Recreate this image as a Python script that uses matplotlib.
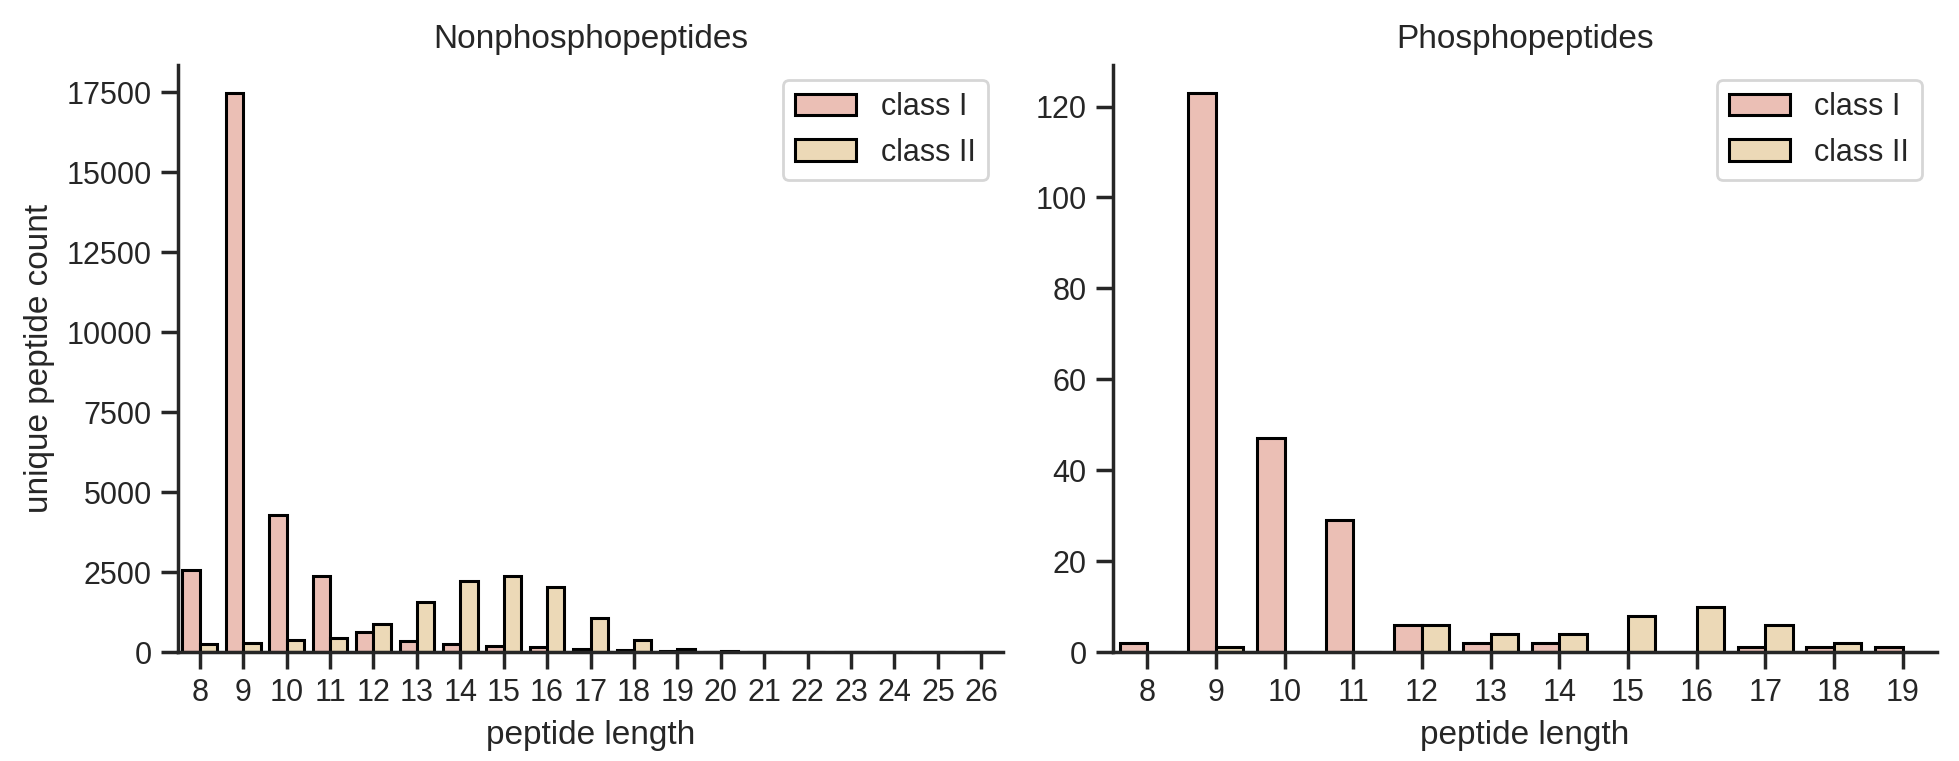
import numpy as np
import matplotlib
matplotlib.use("Agg")
import matplotlib.pyplot as plt

# peptide length counts
lengths_nonphospho = [8, 9, 10, 11, 12, 13, 14, 15, 16, 17, 18, 19, 20, 21, 22, 23, 24, 25, 26]
nonphospho_class1 = [2550, 17480, 4290, 2390, 640, 350, 250, 190, 150, 110, 55, 30, 15, 8, 5, 3, 2, 1, 1]
nonphospho_class2 = [250, 290, 380, 440, 880, 1570, 2210, 2380, 2030, 1050, 370, 95, 25, 12, 8, 5, 3, 2, 1]

lengths_phospho = [8, 9, 10, 11, 12, 13, 14, 15, 16, 17, 18, 19]
phospho_class1 = [2, 123, 47, 29, 6, 2, 2, 0, 0, 1, 1, 1]
phospho_class2 = [0, 1, 0, 0, 6, 4, 4, 8, 10, 6, 2, 0]

hue_labels = ["class I", "class II"]
colors = ["#ebbfb5", "#ecd9b7"]

plt.rcParams.update({
    "font.family": ["Liberation Sans", "DejaVu Sans"],
    "text.color": "#262626",
    "axes.labelcolor": "#262626",
    "axes.edgecolor": "#262626",
    "xtick.color": "#262626",
    "ytick.color": "#262626",
    "axes.linewidth": 1.25,
    "xtick.major.width": 1.25,
    "ytick.major.width": 1.25,
    "xtick.major.size": 6,
    "ytick.major.size": 6,
    "xtick.labelsize": 11,
    "ytick.labelsize": 11,
    "axes.labelsize": 12,
    "axes.titlesize": 12,
    "legend.fontsize": 11,
    "axes.spines.top": False,
    "axes.spines.right": False,
})


def grouped_bars(ax, lengths, series, title, ylabel=None):
    x = np.arange(len(lengths))
    width = 0.4
    for i, (vals, lab, col) in enumerate(zip(series, hue_labels, colors)):
        ax.bar(x - width / 2 + i * width, vals, width=width, color=col,
               edgecolor="black", linewidth=1.1, label=lab)
    ax.set_xticks(x)
    ax.set_xticklabels([str(v) for v in lengths])
    ax.set_xlim(-0.5, len(lengths) - 0.5)
    ax.set_xlabel("peptide length")
    if ylabel:
        ax.set_ylabel(ylabel)
    ax.set_title(title)
    ax.legend(loc="upper right", edgecolor="#cccccc")


fig = plt.figure(figsize=(9.795, 3.805), dpi=200)
ax1 = fig.add_axes([0.0909, 0.1432, 0.4211, 0.7714])
ax2 = fig.add_axes([0.5681, 0.1432, 0.4206, 0.7714])

grouped_bars(ax1, lengths_nonphospho, [nonphospho_class1, nonphospho_class2],
             "Nonphosphopeptides", ylabel="unique peptide count")
ax1.set_yticks(np.arange(0, 17501, 2500))

grouped_bars(ax2, lengths_phospho, [phospho_class1, phospho_class2],
             "Phosphopeptides")
ax2.set_yticks(np.arange(0, 121, 20))

fig.savefig("out.png", dpi=200)
